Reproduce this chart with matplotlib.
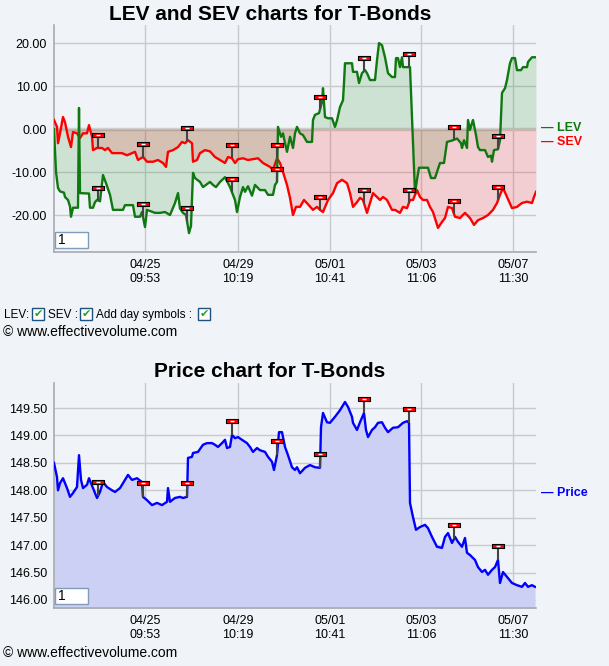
import numpy as np
import matplotlib.pyplot as plt
from matplotlib.patches import Rectangle
from matplotlib.path import Path

plt.rcParams['font.family'] = ['Liberation Sans', 'DejaVu Sans']

# bar number (intraday samples from start of window) and values
lev_bar = [0, 2, 4, 6, 10, 11, 14, 16, 17, 19, 24, 25, 26, 35, 36, 39, 41, 43, 46, 49,
           52, 56, 59, 69, 71, 79, 81, 86, 88, 91, 93, 101, 106, 111, 116, 121, 124, 126, 129, 132,
           135, 137, 139, 141, 146, 149, 156, 159, 162, 166, 171, 176, 181, 183, 186, 189, 191, 194, 198, 201,
           206, 211, 214, 219, 221, 223, 224, 227, 229, 231, 233, 236, 239, 241, 243, 246, 249, 253, 258, 259,
           261, 265, 268, 269, 271, 274, 278, 281, 283, 286, 289, 290, 291, 298, 299, 303, 305, 308, 311, 313,
           316, 321, 323, 325, 328, 331, 334, 338, 341, 342, 344, 346, 348, 349, 356, 361, 363, 365, 374, 377,
           381, 383, 386, 390, 393, 399, 403, 407, 408, 410, 413, 414, 416, 418, 419, 422, 424, 426, 431, 434,
           437, 438, 440, 444, 446, 448, 451, 453, 456, 458, 461, 463, 467, 469, 473, 474, 478, 482]
lev = [0, -10, -13.7, -14.5, -14.8, -15.8, -16.5, -18, -20.4, -18.3, -18.3, 4.9, -14.9, -15, -18.3, -18.3, -17, -16.5, -16.8, -10.7,
       -12.6, -15.3, -18.8, -18.8, -17.7, -17.7, -20.4, -20.4, -19.3, -22.8, -18.8, -19.5, -19.5, -19.3, -20, -17.2, -14.9, -18.5, -19.5, -20,
       -24.2, -22.5, -10.2, -11.4, -12.3, -13.5, -12.3, -13, -13.5, -12.3, -11.2, -13.5, -16.5, -19.3, -15.8, -13.5, -14.6, -13.3, -15.5, -13,
       -14.2, -14.2, -15.3, -15.3, -13, -12.3, 0.5, -1.8, -1, -3.3, -5.3, -1.8, -4.4, -1, 0.5, -1, -1.4, -3, -3, 2.1,
       3.3, 3.7, 6.3, 9.5, 2.8, 2.5, 2.5, 0.5, 2, 5.1, 6.7, 10.7, 15.3, 15.3, 13.3, 13.3, 10.7, 13, 13.7, 13,
       11.4, 11.4, 16, 20, 19.5, 16.7, 13, 12.1, 12.1, 16.5, 16.5, 14.4, 16.7, 14.4, 14.4, -14.9, -11.8, -9, -9, -11.4,
       -11.4, -10, -7.9, -7.9, -3, -2.6, -2.2, -3.3, -4.4, -2.6, -4.4, 2.1, -0.2, 1.4, 2.1, -1.4, -4.2, -4.9, -4.9, -6.5,
       -6.2, -7.6, -4.9, -4.7, -2.6, 8.4, 9.5, 11.4, 15.3, 16.5, 16.5, 13.7, 13.7, 14.4, 14.4, 15.6, 16.7, 16.7]

sev_bar = [0, 3, 4, 6, 9, 11, 14, 17, 19, 23, 26, 29, 33, 35, 38, 39, 43, 48, 51, 54,
           58, 63, 68, 73, 78, 81, 84, 89, 93, 99, 104, 109, 112, 114, 119, 124, 128, 131, 134, 138,
           139, 143, 146, 151, 156, 161, 166, 171, 174, 178, 181, 184, 189, 194, 199, 204, 209, 213, 216, 219,
           223, 226, 229, 233, 236, 239, 242, 246, 250, 254, 259, 263, 266, 269, 274, 279, 283, 288, 293, 296,
           299, 303, 306, 309, 313, 316, 319, 323, 326, 329, 333, 338, 341, 346, 349, 353, 356, 359, 363, 366,
           369, 373, 376, 379, 383, 384, 388, 391, 394, 398, 401, 406, 411, 416, 420, 424, 429, 434, 439, 443,
           446, 449, 453, 458, 463, 468, 473, 478, 480, 482]
sev = [2.1, 0.5, -3.3, -1, 2.8, 1.6, -1.8, -4.2, -0.7, -1, -2.1, -1, -1, 0.9, -1.8, -4.9, -4.4, -4.4, -4.9, -4.4,
       -5.6, -5.6, -5.6, -6.1, -5.6, -5.3, -7.2, -6.5, -7.6, -7.6, -7.2, -7.9, -8.8, -5.3, -4.9, -4.2, -3, -3.3, -2.6, -3.3,
       -7.6, -7.2, -5.6, -4.9, -5.2, -6.5, -7.2, -7.9, -6.5, -6.8, -7.9, -7, -6.8, -7.2, -7, -6.8, -7.9, -8.4, -8.8, -9.5,
       -6.8, -7.9, -10, -13, -16, -20, -18.1, -18.1, -16.5, -17.5, -18.8, -18.1, -18.8, -19.3, -16.5, -14.9, -12.6, -11.8, -12.6, -14.9,
       -18.1, -17, -16, -16.5, -19.5, -17.2, -14.9, -15.8, -16.5, -15.8, -16.5, -18.8, -18.8, -19.5, -18.1, -18.4, -16.5, -16.5, -14.2, -15.8,
       -16.5, -16.5, -18.1, -19.3, -22.3, -23, -21.6, -20.7, -18.1, -18.4, -20.4, -20.7, -19.5, -20.7, -22.3, -21.2, -20.7, -20, -18.8, -17.2,
       -15.3, -13.7, -15.8, -18.4, -18.1, -17.2, -16.9, -17.2, -15.8, -14.6]

price_bar = [0, 3, 4, 6, 9, 13, 16, 19, 23, 25, 27, 29, 33, 35, 39, 43, 46, 49, 53, 58,
             61, 66, 71, 74, 78, 83, 88, 89, 93, 98, 103, 108, 113, 114, 116, 121, 126, 129, 133, 134,
             138, 139, 144, 149, 153, 158, 161, 164, 168, 171, 173, 176, 178, 181, 184, 188, 193, 196, 199, 203,
             206, 211, 214, 218, 220, 223, 225, 228, 231, 234, 238, 241, 243, 246, 251, 256, 261, 266, 267, 269,
             273, 276, 281, 286, 291, 294, 298, 299, 303, 306, 310, 312, 314, 318, 321, 324, 328, 331, 334, 339,
             344, 349, 353, 355, 356, 359, 362, 366, 371, 374, 378, 383, 388, 391, 394, 398, 401, 404, 408, 411,
             413, 416, 421, 424, 428, 431, 434, 438, 441, 444, 446, 449, 454, 458, 463, 468, 471, 474, 478, 481]
price = [148.50, 148.24, 148.00, 148.13, 148.22, 148.04, 147.88, 147.95, 148.06, 148.64, 148.19, 148.04, 148.10, 148.22, 148.04, 147.86, 147.97, 148.15, 148.06, 148.00,
         147.97, 148.04, 148.19, 148.28, 148.19, 148.22, 148.15, 147.88, 147.82, 147.73, 147.77, 147.73, 147.79, 148.04, 147.79, 147.86, 147.88, 147.86, 147.88, 148.59,
         148.61, 148.68, 148.70, 148.83, 148.86, 148.86, 148.83, 148.79, 148.86, 148.92, 148.77, 148.79, 149.01, 148.95, 148.97, 148.92, 148.86, 148.79, 148.70, 148.77,
         148.73, 148.70, 148.61, 148.52, 148.37, 148.64, 149.06, 149.06, 148.79, 148.64, 148.42, 148.37, 148.42, 148.31, 148.41, 148.46, 148.42, 148.41, 149.15, 149.41,
         149.24, 149.23, 149.34, 149.46, 149.61, 149.52, 149.34, 149.23, 149.10, 149.24, 149.41, 149.10, 148.97, 149.10, 149.15, 149.23, 149.24, 149.14, 149.06, 149.14,
         149.15, 149.23, 149.26, 149.23, 147.77, 147.51, 147.28, 147.33, 147.37, 147.31, 147.15, 146.97, 146.95, 147.15, 147.22, 147.04, 147.15, 147.06, 146.97, 147.13,
         146.86, 146.82, 146.73, 146.60, 146.51, 146.55, 146.46, 146.55, 146.60, 146.73, 146.31, 146.51, 146.40, 146.31, 146.27, 146.24, 146.31, 146.24, 146.27, 146.24]

day_start = [44, 89, 133, 178, 223, 266, 310, 355, 400, 444]
tick_bar = [91, 184, 276, 367, 459]
tick_lab = ['04/25\n09:53', '04/29\n10:19', '05/01\n10:41', '05/03\n11:06', '05/07\n11:30']

W, H = 609, 666
bg = '#f0f3f7'
fig = plt.figure(figsize=(W / 100, H / 100), dpi=100, facecolor=bg)


def fx(px):
    return px / W


def fy(py):
    return 1 - py / H


flag = Path([(-1, -0.4), (1, -0.4), (1, 0.4), (-1, 0.4), (-1, -0.4)],
            [Path.MOVETO, Path.LINETO, Path.LINETO, Path.LINETO, Path.CLOSEPOLY])


def day_flags(ax, bars, vals, lift):
    fb = np.array(day_start)
    base = np.interp(fb, bars, vals)
    top = base + lift
    ax.vlines(fb, base, top, color='#444444', lw=1.5, zorder=5)
    ax.plot(fb, top, ls='none', marker=flag, ms=8, mfc='red', mec='black', mew=0.8, zorder=6)
    ax.plot(fb, top, ls='none', marker='_', ms=2.5, mec='white', mew=1, zorder=7)


def style(ax):
    ax.set_facecolor(bg)
    ax.set_xlim(0, 482)
    ax.set_xticks(tick_bar)
    ax.set_xticklabels(tick_lab, fontsize=9, linespacing=1.25)
    ax.tick_params(length=0, pad=5, labelsize=9)
    ax.grid(True, color='#c8cacd', lw=1)
    ax.set_axisbelow(True)
    for s in ['top', 'right']:
        ax.spines[s].set_visible(False)
    for s in ['left', 'bottom']:
        ax.spines[s].set_color('#a8aab0')
        ax.spines[s].set_linewidth(1.2)
    ax.yaxis.set_major_formatter(plt.FormatStrFormatter('%.2f'))


def input_box(y0):
    fig.add_artist(Rectangle((fx(55), fy(y0 + 16)), 33 / W, 16 / H, transform=fig.transFigure,
                             fc='white', ec='#7f9db9', lw=1, zorder=10))
    fig.text(fx(58), fy(y0 + 8), '1', fontsize=10, va='center', zorder=11)


# top panel: LEV / SEV
ax1 = fig.add_axes([fx(54), fy(252), 482 / W, 227 / H])
style(ax1)
ax1.set_ylim(-28.6, 24.2)
ax1.set_yticks([-20, -10, 0, 10, 20])
ax1.axhline(0, color='#cfcfcf', lw=2.5, zorder=1)
ax1.fill_between(lev_bar, 0, lev, color='green', alpha=0.14, lw=0, zorder=2)
ax1.fill_between(sev_bar, 0, sev, color='red', alpha=0.15, lw=0, zorder=2)
ax1.plot(sev_bar, sev, color='#ff0000', lw=1.7, zorder=3)
ax1.plot(lev_bar, lev, color='#107810', lw=1.7, zorder=4)
day_flags(ax1, lev_bar, lev, 3.0)
day_flags(ax1, sev_bar, sev, 3.0)
fig.text(fx(270), fy(14), 'LEV and SEV charts for T-Bonds', fontsize=15, fontweight='bold',
         ha='center', va='center')
fig.text(fx(541), fy(128), '\u2014 LEV', color='#107810', fontsize=9, fontweight='bold', va='center')
fig.text(fx(541), fy(142), '\u2014 SEV', color='red', fontsize=9, fontweight='bold', va='center')
input_box(232)

# checkbox row
fig.text(fx(4), fy(315), 'LEV:', fontsize=8.5, va='center')
fig.text(fx(48), fy(315), 'SEV :', fontsize=8.5, va='center')
fig.text(fx(96), fy(315), 'Add day symbols :', fontsize=8.5, va='center')
for bx in [32, 80, 198]:
    fig.add_artist(Rectangle((fx(bx), fy(320)), 12 / W, 12 / H, transform=fig.transFigure,
                             fc='white', ec='#1c5180', lw=1))
    fig.text(fx(bx + 6), fy(314), '\u2714', color='#21a121', fontsize=8, ha='center', va='center')
fig.text(fx(3), fy(332), '\u00a9 www.effectivevolume.com', fontsize=10, va='center')

# bottom panel: price
ax2 = fig.add_axes([fx(54), fy(608), 482 / W, 225 / H])
style(ax2)
ax2.set_ylim(145.854, 149.956)
ax2.set_yticks(np.arange(146, 149.51, 0.5))
ax2.fill_between(price_bar, 145.854, price, color='#cdd0f5', lw=0, zorder=2)
ax2.plot(price_bar, price, color='#0000ff', lw=1.7, zorder=4)
day_flags(ax2, price_bar, price, 0.25)
fig.text(fx(270), fy(372), 'Price chart for T-Bonds', fontsize=15, fontweight='bold',
         ha='center', va='center')
fig.text(fx(541), fy(493), '\u2014 Price', color='#0000ff', fontsize=9, fontweight='bold', va='center')
input_box(588)
fig.text(fx(3), fy(653), '\u00a9 www.effectivevolume.com', fontsize=10, va='center')

fig.savefig('out.png', dpi=100, facecolor=bg)
